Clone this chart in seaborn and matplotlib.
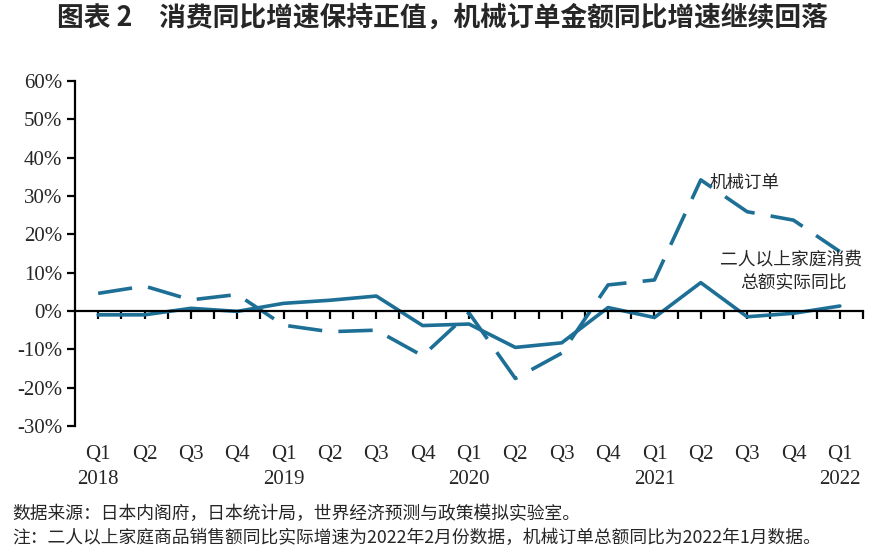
import matplotlib
matplotlib.use("Agg")
import matplotlib.pyplot as plt
import matplotlib.transforms as mtransforms
from matplotlib.ticker import FixedLocator, FuncFormatter
import seaborn as sns
import pandas as pd

quarters = ["Q1", "Q2", "Q3", "Q4", "Q1", "Q2", "Q3", "Q4", "Q1", "Q2", "Q3", "Q4",
            "Q1", "Q2", "Q3", "Q4", "Q1"]
years = ["2018", "", "", "", "2019", "", "", "", "2020", "", "", "", "2021", "", "", "", "2022"]
consumption = [-1.0, -1.0, 0.7, -0.1, 2.0, 2.8, 3.9, -3.8, -3.4, -9.5, -8.3, 0.9,
               -1.7, 7.4, -1.5, -0.6, 1.3]
machinery = [4.6, 6.5, 2.9, 4.3, -3.7, -5.4, -5.0, -11.7, -0.5, -17.6, -11.0, 6.8,
             8.1, 34.2, 25.9, 23.7, 15.5]
yticks = [-30, -20, -10, 0, 10, 20, 30, 40, 50, 60]

sns.set_theme(style="white")
plt.rcParams["font.family"] = ["Liberation Serif", "Noto Sans CJK SC", "DejaVu Sans"]
cjk = ["Noto Sans CJK SC", "DejaVu Sans"]

color = "#1d6f96"
idx = list(range(len(quarters)))
df = pd.DataFrame({"i": idx, "cons": consumption, "mach": machinery})

fig = plt.figure(figsize=(8.95, 5.58), dpi=100)
ax = fig.add_axes([75 / 895, 132 / 558, (863 - 75) / 895, (477 - 132) / 558])

sns.lineplot(data=df, x="i", y="mach", ax=ax, color=color, linewidth=2.6)
ax.lines[-1].set_dashes([9.5, 4.5])
sns.lineplot(data=df, x="i", y="cons", ax=ax, color=color, linewidth=2.6)

ax.set_xlim(-0.5, len(quarters) - 0.5)
ax.set_ylim(-30, 60)
ax.set_xlabel("")
ax.set_ylabel("")

ax.spines["top"].set_visible(False)
ax.spines["right"].set_visible(False)
ax.spines["bottom"].set_position(("data", 0))
for s in ["left", "bottom"]:
    ax.spines[s].set_color("black")
    ax.spines[s].set_linewidth(1.6)

ax.yaxis.set_major_locator(FixedLocator(yticks))
ax.yaxis.set_major_formatter(FuncFormatter(lambda v, p: f"{int(v)}%"))
ax.tick_params(axis="y", direction="out", length=6, width=1.6, color="black",
               labelsize=15, pad=3, left=True)

major = [i for i in idx]
minor = [i + 0.5 for i in idx]
ax.xaxis.set_major_locator(FixedLocator(major))
ax.xaxis.set_minor_locator(FixedLocator(minor))
ax.tick_params(axis="x", which="both", direction="out", length=6, width=1.6,
               color="black", labelbottom=False, bottom=True)

trans = mtransforms.blended_transform_factory(ax.transData, fig.transFigure)
for i, (q, y) in enumerate(zip(quarters, years)):
    ax.text(i, 1 - 455 / 558, q, transform=trans, ha="center", va="center", fontsize=15)
    if y:
        ax.text(i, 1 - 479 / 558, y, transform=trans, ha="center", va="center", fontsize=15)

ax.text(13.95, 33.5, "机械订单", ha="center", va="center", fontsize=12.6, family=cjk)
ax.text(14.95, 13.5, "二人以上家庭消费", ha="center", va="center", fontsize=12.8, family=cjk)
ax.text(15.0, 7.5, "总额实际同比", ha="center", va="center", fontsize=12.8, family=cjk)

fig.text(442 / 895, 1 - 18 / 558, "图表 2　消费同比增速保持正值，机械订单金额同比增速继续回落",
         ha="center", va="center", fontsize=19.3, fontweight="bold", family=cjk)
fig.text(12 / 895, 1 - 514 / 558, "数据来源：日本内阁府，日本统计局，世界经济预测与政策模拟实验室。",
         ha="left", va="center", fontsize=12.8, family=cjk)
fig.text(12 / 895, 1 - 538 / 558,
         "注：二人以上家庭商品销售额同比实际增速为2022年2月份数据，机械订单总额同比为2022年1月数据。",
         ha="left", va="center", fontsize=12.8, family=cjk)

fig.savefig("out.png", dpi=100)
